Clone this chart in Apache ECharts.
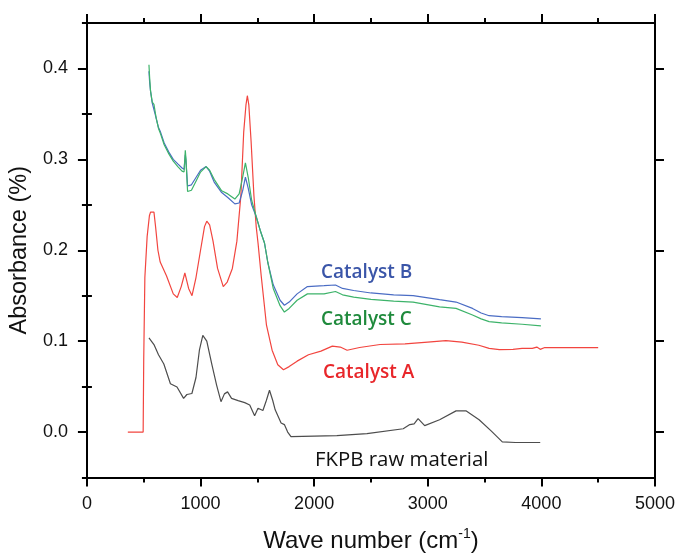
<!DOCTYPE html>
<html><head><meta charset="utf-8">
<script src="https://cdn.jsdelivr.net/npm/echarts@6/dist/echarts.min.js"></script>
<style>html,body{margin:0;padding:0;background:#fff}#c{width:678px;height:558px}</style>
</head><body><div id="c"></div>
<script>
const xTicks = [0, 1000, 2000, 3000, 4000, 5000];
const yLabelValues = [0, 0.1, 0.2, 0.3, 0.4];
const yMinorValues = [-0.05, 0.05, 0.15, 0.25, 0.35, 0.45];

const xA = [360, 495, 500, 510, 530, 550, 560, 590, 605, 625, 645, 700, 760, 795, 830, 862, 895, 925, 960, 1000, 1035, 1055, 1080, 1110, 1150, 1200, 1235, 1280, 1320, 1355, 1380, 1400, 1412, 1425, 1445, 1470, 1490, 1506, 1534, 1580, 1630, 1680, 1730, 1780, 1850, 1950, 2060, 2160, 2230, 2290, 2400, 2580, 2800, 3000, 3160, 3300, 3450, 3540, 3630, 3750, 3830, 3920, 3960, 3990, 4030, 4200, 4500];
const yA = [0.0, 0.0, 0.08, 0.17, 0.215, 0.238, 0.242, 0.242, 0.225, 0.2, 0.187, 0.172, 0.152, 0.148, 0.16, 0.175, 0.158, 0.150, 0.17, 0.2, 0.226, 0.232, 0.228, 0.21, 0.18, 0.160, 0.165, 0.18, 0.21, 0.26, 0.33, 0.36, 0.37, 0.36, 0.32, 0.26, 0.226, 0.208, 0.172, 0.118, 0.09, 0.074, 0.0686, 0.072, 0.078, 0.085, 0.089, 0.0945, 0.0935, 0.090, 0.093, 0.0963, 0.097, 0.099, 0.1006, 0.099, 0.0955, 0.092, 0.0906, 0.091, 0.092, 0.092, 0.0935, 0.091, 0.093, 0.0928, 0.0928];

const xBC = [546, 552, 560, 575, 590, 610, 630, 648, 680, 721, 760, 800, 837, 855, 866, 872, 886, 920, 960, 1000, 1049, 1080, 1120, 1186, 1240, 1302, 1340, 1370, 1395, 1420, 1450, 1491, 1530, 1563, 1593, 1640, 1700, 1738, 1780, 1850, 1941, 2087, 2188, 2250, 2348, 2500, 2700, 2871, 3104, 3249, 3394, 3470, 3540, 3650, 3830, 3996];
const yB = [0.397, 0.385, 0.375, 0.362, 0.3606, 0.345, 0.335, 0.330, 0.318, 0.308, 0.300, 0.295, 0.2905, 0.289, 0.305, 0.298, 0.2707, 0.272, 0.280, 0.288, 0.292, 0.287, 0.275, 0.2635, 0.258, 0.251, 0.252, 0.265, 0.2805, 0.268, 0.250, 0.2366, 0.22, 0.208, 0.186, 0.162, 0.145, 0.1395, 0.143, 0.152, 0.160, 0.161, 0.1618, 0.158, 0.1557, 0.153, 0.151, 0.150, 0.1456, 0.143, 0.136, 0.131, 0.128, 0.127, 0.1258, 0.1244];
const yC = [0.404, 0.39, 0.375, 0.363, 0.3606, 0.345, 0.334, 0.328, 0.316, 0.306, 0.298, 0.292, 0.287, 0.286, 0.310, 0.300, 0.2646, 0.266, 0.276, 0.286, 0.292, 0.288, 0.278, 0.2654, 0.262, 0.2563, 0.262, 0.28, 0.296, 0.28, 0.255, 0.2366, 0.22, 0.208, 0.186, 0.158, 0.139, 0.132, 0.136, 0.145, 0.152, 0.152, 0.1546, 0.151, 0.1485, 0.146, 0.144, 0.143, 0.1377, 0.136, 0.1287, 0.1245, 0.1215, 0.120, 0.1186, 0.1168];

const xF = [546, 561, 590, 630, 677, 735, 793, 851, 880, 924, 960, 990, 1020, 1055, 1099, 1142, 1180, 1210, 1238, 1273, 1331, 1389, 1433, 1476, 1506, 1549, 1580, 1607, 1635, 1657, 1709, 1738, 1767, 1796, 2000, 2200, 2465, 2784, 2842, 2880, 2915, 2973, 3104, 3249, 3336, 3452, 3560, 3656, 3772, 3990];
const yF = [0.1035, 0.1046, 0.0963, 0.085, 0.0748, 0.0532, 0.0496, 0.037, 0.0413, 0.0424, 0.06, 0.09, 0.1064, 0.1, 0.0748, 0.0514, 0.0334, 0.042, 0.0442, 0.037, 0.0345, 0.0324, 0.0298, 0.018, 0.0262, 0.0237, 0.035, 0.046, 0.035, 0.0244, 0.01, 0.0082, 0.0, -0.005, -0.0045, -0.004, -0.0018, 0.0036, 0.0082, 0.009, 0.0147, 0.0071, 0.0136, 0.0233, 0.0233, 0.0136, 0.001, -0.0108, -0.0115, -0.0115];

const seriesNames = ['Catalyst A', 'Catalyst B', 'Catalyst C', 'FKPB raw material'];
const zip = (xs, ys) => xs.map((x, i) => [x, ys[i]]);

const chart = echarts.init(document.getElementById('c'), null, {renderer: 'canvas'});
const axisLine = {show: true, onZero: false, lineStyle: {color: '#000', width: 2}};
const font = 'Liberation Sans, Arial, sans-serif';
const xBase = {
  type: 'value', min: 0, max: 5000, interval: 1000,
  axisLine, splitLine: {show: false},
  axisTick: {show: true, length: 9, lineStyle: {color: '#000', width: 2}},
  minorTick: {show: true, splitNumber: 2, length: 5, lineStyle: {color: '#000', width: 2}}
};
const yBase = {
  type: 'value', min: -0.05, max: 0.45,
  axisLine, splitLine: {show: false},
  axisTick: {show: true, length: 9, customValues: yLabelValues, lineStyle: {color: '#000', width: 2}},
  axisLabel: {show: false}
};
const yMinor = {
  type: 'value', min: -0.05, max: 0.45,
  axisLine: {show: false}, splitLine: {show: false},
  axisTick: {show: true, length: 5, customValues: yMinorValues, lineStyle: {color: '#000', width: 2}},
  axisLabel: {show: false}
};

const line = (name, data, color) => ({
  name, type: 'line', data, showSymbol: false, symbol: 'none',
  lineStyle: {color, width: 1.2}, itemStyle: {color}, z: 3, animation: false
});

const labFont = 'Open Sans, sans-serif';
chart.setOption({
  animation: false,
  grid: {left: 84, top: 23, right: 21, bottom: 73, containLabel: false},
  xAxis: [
    Object.assign({}, xBase, {
      position: 'bottom',
      axisLabel: {show: true, margin: 18, fontSize: 18, color: '#111', fontFamily: font,
                  customValues: xTicks, formatter: v => String(v)},
      name: 'Wave number (cm{sup|-1})', nameLocation: 'middle', nameGap: 50,
      nameTextStyle: {fontSize: 24, color: '#111', fontFamily: font,
        rich: {sup: {fontSize: 14, color: '#111', fontFamily: font, verticalAlign: 'top', padding: [0, 0, 13, 0]}}}
    }),
    Object.assign({}, xBase, {position: 'top', axisLabel: {show: false}})
  ],
  yAxis: [
    Object.assign({}, yBase, {
      position: 'left',
      axisLabel: {show: true, margin: 19, fontSize: 18, color: '#111', fontFamily: font,
                  customValues: yLabelValues, formatter: v => v.toFixed(1)},
      name: 'Absorbance (%)', nameLocation: 'middle', nameGap: 47, nameRotate: 90,
      nameTextStyle: {fontSize: 23.5, color: '#111', fontFamily: font}
    }),
    Object.assign({}, yBase, {position: 'right'}),
    Object.assign({}, yMinor, {position: 'left'}),
    Object.assign({}, yMinor, {position: 'right'})
  ],
  series: [
    line(seriesNames[0], zip(xA, yA), '#f2453f'),
    line(seriesNames[1], zip(xBC, yB), '#4a6cc4'),
    line(seriesNames[2], zip(xBC, yC), '#3db36a'),
    line(seriesNames[3], zip(xF, yF), '#4d4d4d')
  ],
  graphic: [
    {type: 'text', x: 321, y: 273, style: {text: seriesNames[1], fill: '#3a55a8', verticalAlign: 'middle', font: '600 19px ' + labFont}},
    {type: 'text', x: 321, y: 320, style: {text: seriesNames[2], fill: '#1f8a3c', verticalAlign: 'middle', font: '600 19px ' + labFont}},
    {type: 'text', x: 323, y: 373, style: {text: seriesNames[0], fill: '#e8262a', verticalAlign: 'middle', font: '600 19px ' + labFont}},
    {type: 'text', x: 315, y: 460, style: {text: seriesNames[3], fill: '#111', verticalAlign: 'middle', font: '500 20.4px ' + labFont}}
  ]
});
</script></body></html>
